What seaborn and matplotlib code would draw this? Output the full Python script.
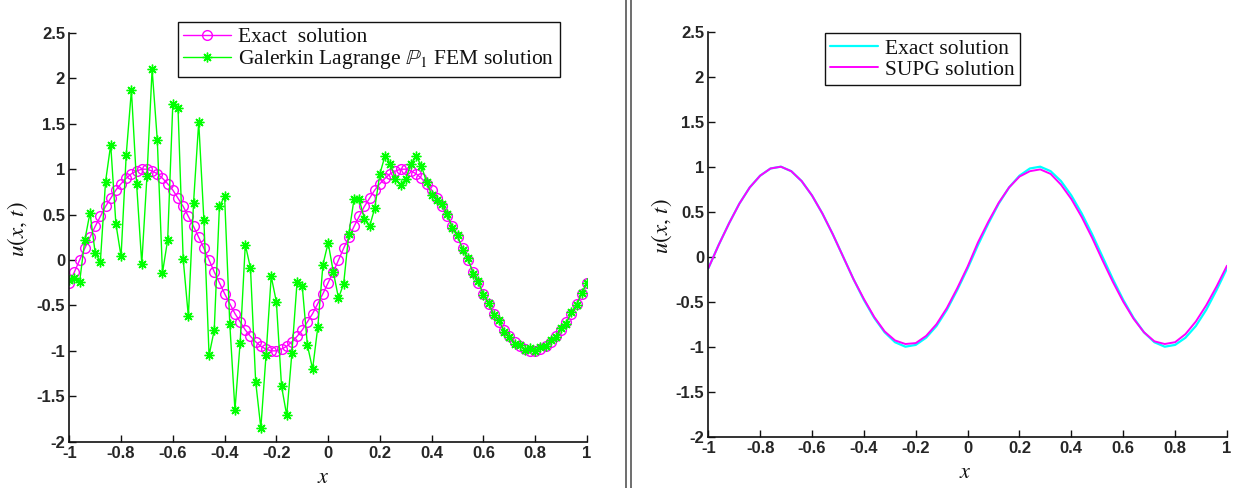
import matplotlib

matplotlib.use("Agg")
import matplotlib.pyplot as plt
import numpy as np
import pandas as pd
import seaborn as sns
from matplotlib.lines import Line2D
from matplotlib.ticker import FuncFormatter, MultipleLocator

# Left panel: nodes x = -1, -0.98, ..., 1
x_left = np.round(np.arange(-1.0, 1.0001, 0.02), 2)

exact_left = [
    -0.25, -0.13,
    0.00, 0.13, 0.25, 0.37, 0.48, 0.59, 0.68, 0.77, 0.84, 0.90, 0.95, 0.98, 1.00,
    1.00, 0.98, 0.95, 0.90, 0.84, 0.77, 0.68, 0.59, 0.48, 0.37, 0.25, 0.13, 0.00,
    -0.13, -0.25, -0.37, -0.48, -0.59, -0.68, -0.77, -0.84, -0.90, -0.95, -0.98, -1.00,
    -1.00, -0.98, -0.95, -0.90, -0.84, -0.77, -0.68, -0.59, -0.48, -0.37, -0.25, -0.13,
    0.00, 0.13, 0.25, 0.37, 0.48, 0.59, 0.68, 0.77, 0.84, 0.90, 0.95, 0.98, 1.00,
    1.00, 0.98, 0.95, 0.90, 0.84, 0.77, 0.68, 0.59, 0.48, 0.37, 0.25, 0.13, 0.00,
    -0.13, -0.25, -0.37, -0.48, -0.59, -0.68, -0.77, -0.84, -0.90, -0.95, -0.98, -1.00,
    -1.00, -0.98, -0.95, -0.90, -0.84, -0.77, -0.68, -0.59, -0.48, -0.37, -0.25,
]

galerkin_left = [
    -0.22, -0.20, -0.24, 0.22, 0.52, 0.08, -0.02, 0.86, 1.27, 0.40,
    0.04, 1.16, 1.87, 0.84, -0.04, 0.92, 2.10, 1.32, -0.14, 0.22,
    1.72, 1.67, 0.01, -0.62, 0.63, 1.52, 0.44, -1.05, -0.77, 0.59,
    0.70, -0.70, -1.65, -0.91, 0.17, -0.09, -1.34, -1.85, -1.05, -0.18,
    -0.46, -1.39, -1.71, -1.02, -0.24, -0.29, -0.94, -1.20, -0.74, -0.05,
    0.19, -0.13, -0.42, -0.26, 0.29, 0.67, 0.67, 0.45, 0.37, 0.57,
    0.95, 1.15, 1.06, 0.89, 0.83, 0.89, 1.06, 1.14, 1.04, 0.86,
    0.72, 0.66, 0.62, 0.51, 0.35, 0.27, 0.11, 0.02, -0.15, -0.23,
    -0.39, -0.47, -0.61, -0.66, -0.79, -0.85, -0.92, -0.94, -0.99, -0.97,
    -1.00, -0.96, -0.95, -0.88, -0.85, -0.75, -0.70, -0.57, -0.50, -0.36,
    -0.25,
]

# Right panel: x = -1, -0.96, ..., 1
x_right = np.round(np.arange(-1.0, 1.0001, 0.04), 2)

exact_right = [
    -0.13, 0.13, 0.37, 0.59, 0.77, 0.90, 0.98, 1.00, 0.95, 0.84, 0.68, 0.48, 0.25,
    0.00, -0.25, -0.48, -0.68, -0.84, -0.95, -1.00, -0.98, -0.90, -0.77, -0.59, -0.37,
    -0.13, 0.13, 0.37, 0.59, 0.77, 0.90, 0.98, 1.00, 0.95, 0.84, 0.68, 0.48, 0.25,
    0.00, -0.25, -0.48, -0.68, -0.84, -0.95, -1.00, -0.98, -0.90, -0.77, -0.59, -0.37,
    -0.13,
]

supg_right = [
    -0.13, 0.13, 0.37, 0.59, 0.77, 0.90, 0.98, 1.00, 0.95, 0.84, 0.68, 0.48, 0.25,
    0.00, -0.25, -0.47, -0.67, -0.83, -0.93, -0.97, -0.96, -0.88, -0.75, -0.57, -0.35,
    -0.11, 0.16, 0.39, 0.60, 0.77, 0.89, 0.95, 0.97, 0.92, 0.80, 0.64, 0.44, 0.21,
    -0.04, -0.28, -0.50, -0.69, -0.84, -0.94, -0.97, -0.95, -0.86, -0.72, -0.54, -0.33,
    -0.10,
]

left_labels = ["Exact  solution", r"Galerkin Lagrange $\mathbb{P}_1$ FEM solution"]
right_labels = ["Exact solution", "SUPG solution"]

sns.set_theme(style="white")
plt.rcParams["font.family"] = ["Liberation Sans", "DejaVu Sans"]
plt.rcParams["mathtext.fontset"] = "stix"
plt.rcParams["axes.unicode_minus"] = False

TICK_COLOR = "#262626"
SERIF = ["Liberation Serif", "DejaVu Serif"]


def style_axes(ax):
    ax.set_xlim(-1, 1)
    ax.set_ylim(-2, 2.5)
    ax.xaxis.set_major_locator(MultipleLocator(0.2))
    ax.yaxis.set_major_locator(MultipleLocator(0.5))
    fmt = FuncFormatter(lambda v, _: f"{v:g}" if abs(v) > 1e-9 else "0")
    ax.xaxis.set_major_formatter(fmt)
    ax.yaxis.set_major_formatter(fmt)
    for side in ("top", "right"):
        ax.spines[side].set_visible(False)
    for side in ("left", "bottom"):
        ax.spines[side].set_color("#111111")
        ax.spines[side].set_linewidth(1.2)
    ax.tick_params(
        direction="in", length=5, width=1, color="#111111",
        labelsize=12, labelcolor=TICK_COLOR, pad=3,
        left=True, bottom=True,
    )
    for lbl in ax.get_xticklabels() + ax.get_yticklabels():
        lbl.set_fontweight("bold")
    ax.set_xlabel("$x$", fontsize=16, color="#111111")
    ax.set_ylabel("$u(x,\\, t)$", fontsize=16.5, color="#111111")


fig = plt.figure(figsize=(12.35, 4.88), dpi=100)
ax_l = fig.add_axes([0.0561, 0.0949, 0.4192, 0.8376])
ax_r = fig.add_axes([0.5735, 0.1051, 0.4200, 0.8300])

left_df = pd.DataFrame({"x": x_left, "exact": exact_left, "galerkin": galerkin_left})
right_df = pd.DataFrame({"x": x_right, "exact": exact_right, "supg": supg_right})

sns.lineplot(
    data=left_df, x="x", y="exact", ax=ax_l, color="#FF00FF", linewidth=1.0,
    marker="o", markersize=7, markerfacecolor="none", markeredgecolor="#FF00FF",
    markeredgewidth=1.0, estimator=None, sort=False, label=left_labels[0],
)
sns.lineplot(
    data=left_df, x="x", y="galerkin", ax=ax_l, color="#00FF00", linewidth=1.0,
    marker=(8, 2, 0), markersize=7, markeredgecolor="#00FF00", markeredgewidth=1.0,
    estimator=None, sort=False, label=left_labels[1],
)

sns.lineplot(
    data=right_df, x="x", y="exact", ax=ax_r, color="#00FFFF", linewidth=1.6,
    estimator=None, sort=False, label=right_labels[0],
)
sns.lineplot(
    data=right_df, x="x", y="supg", ax=ax_r, color="#FF00FF", linewidth=1.4,
    estimator=None, sort=False, label=right_labels[1],
)

for ax in (ax_l, ax_r):
    style_axes(ax)

ax_l.xaxis.set_label_coords(0.49, -0.062)
ax_l.yaxis.set_label_coords(-0.076, 0.52)
ax_r.xaxis.set_label_coords(0.495, -0.062)
ax_r.yaxis.set_label_coords(-0.066, 0.52)

legend_kw = dict(
    loc="upper left", borderaxespad=0, frameon=True, fancybox=False,
    edgecolor="#111111", framealpha=1, handlelength=2.2, handletextpad=0.35,
    labelspacing=0.05, borderpad=0.25, prop={"family": SERIF, "size": 15.5},
)
leg_l = ax_l.legend(bbox_to_anchor=(0.1441, 0.955), bbox_transform=fig.transFigure, **legend_kw)
leg_r = ax_r.legend(bbox_to_anchor=(0.668, 0.932), bbox_transform=fig.transFigure, **legend_kw)
for leg in (leg_l, leg_r):
    leg.get_frame().set_linewidth(1.0)
    for t in leg.get_texts():
        t.set_color("#111111")

# double separator between the two panels
for xf in (626 / 1235, 631 / 1235):
    fig.add_artist(Line2D([xf, xf], [0, 1], transform=fig.transFigure, color="#555555", linewidth=1.2))

fig.savefig("out.png", dpi=100)
